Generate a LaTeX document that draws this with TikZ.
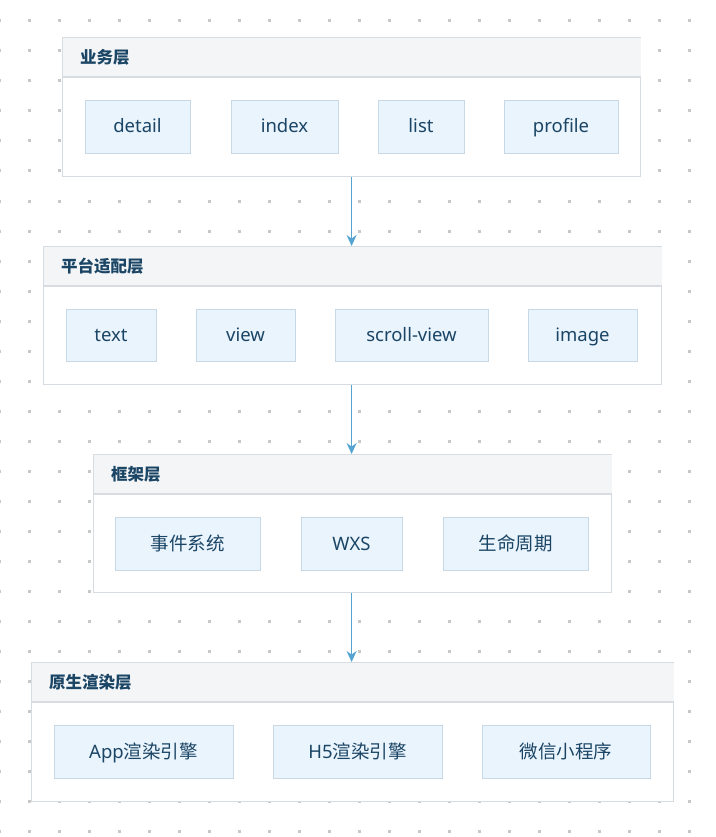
\documentclass[tikz,border=0pt]{standalone}
\usepackage{fontspec}
\setmainfont{Noto Sans}
\newfontfamily\cjk{Noto Sans CJK SC}
\usetikzlibrary{arrows.meta,calc}
\definecolor{gborder}{HTML}{D6DCE1}
\definecolor{hfill}{HTML}{F3F5F7}
\definecolor{cfill}{HTML}{EAF4FD}
\definecolor{cborder}{HTML}{C9D8E5}
\definecolor{tcol}{HTML}{1B4565}
\definecolor{acol}{HTML}{55A3D0}
\definecolor{dotcol}{HTML}{C8C8C8}
\tikzset{
  group/.style={draw=gborder, fill=white, line width=1.2pt, anchor=north west, inner sep=0pt},
  child/.style={draw=cborder, fill=cfill, line width=0.9pt, minimum height=53pt, inner sep=0pt,
    text=tcol, font=\fontsize{18.5}{22}\selectfont, text height=13pt, text depth=0pt},
  htitle/.style={anchor=west, text=tcol, font=\cjk\bfseries\fontsize{16.5}{19}\selectfont, inner sep=0pt},
  arr/.style={draw=acol, line width=1.5pt, -{Stealth[length=11pt,width=10pt]}},
}
\begin{document}
\begin{tikzpicture}[x=1pt,y=-1pt]
\useasboundingbox (0,0) rectangle (715,837);
% dot grid
\foreach \i in {0,...,24}{
  \foreach \j in {0,...,27}{
    \fill[dotcol] ({-1+30*\i-1.5},{21+30*\j-1.5}) rectangle ++(3,3);
  }
}
% groups
\node[group, minimum width=578pt, minimum height=139pt] (g1) at (62,37) {};
\node[group, minimum width=618pt, minimum height=138pt] (g2) at (43,246) {};
\node[group, minimum width=518pt, minimum height=138pt] (g3) at (93,454) {};
\node[group, minimum width=642pt, minimum height=139pt] (g4) at (31,662) {};
\foreach \g in {g1,g2,g3,g4}{
  \fill[hfill] ($(\g.north west)+(0.6,0.6)$) rectangle ($(\g.north east)+(-0.6,40)$);
  \draw[gborder, line width=1.2pt] ($(\g.north west)+(0,40)$) -- ($(\g.north east)+(0,40)$);
}
\node[htitle] (t1) at ($(g1.north west)+(18,20)$) {业务层};
\node[htitle] (t2) at ($(g2.north west)+(18,20)$) {平台适配层};
\node[htitle] (t3) at ($(g3.north west)+(18,20)$) {框架层};
\node[htitle] (t4) at ($(g4.north west)+(18,20)$) {原生渲染层};
% layer 1
\node[child, minimum width=105pt] (detail) at (137.5,126.5) {detail};
\node[child, minimum width=107pt] (index) at (284.5,126.5) {index};
\node[child, minimum width=86pt] (list) at (421,126.5) {list};
\node[child, minimum width=114pt] (profile) at (561,126.5) {profile};
% layer 2
\node[child, minimum width=90pt, minimum height=52pt] (text) at (111,335) {text};
\node[child, minimum width=99pt, minimum height=52pt] (view) at (245.5,335) {view};
\node[child, minimum width=153pt, minimum height=52pt] (scroll) at (411.5,335) {scroll-view};
\node[child, minimum width=109pt, minimum height=52pt] (image) at (582.5,335) {image};
% layer 3
\node[child, minimum width=145pt] (event) at (187.5,543.5) {\cjk 事件系统};
\node[child, minimum width=101pt] (wxs) at (351.5,543.5) {WXS};
\node[child, minimum width=145pt] (life) at (515.5,543.5) {\cjk 生命周期};
% layer 4
\node[child, minimum width=179pt] (app) at (143.5,751.5) {App{\cjk 渲染引擎}};
\node[child, minimum width=169pt] (h5) at (357.5,751.5) {H5{\cjk 渲染引擎}};
\node[child, minimum width=168pt] (wx) at (566,751.5) {\cjk 微信小程序};
% arrows
\draw[arr] (g1.south) -- (g1.south |- g2.north);
\draw[arr] (g1.south |- g2.south) -- (g1.south |- g3.north);
\draw[arr] (g1.south |- g3.south) -- (g1.south |- g4.north);
\end{tikzpicture}
\end{document}
